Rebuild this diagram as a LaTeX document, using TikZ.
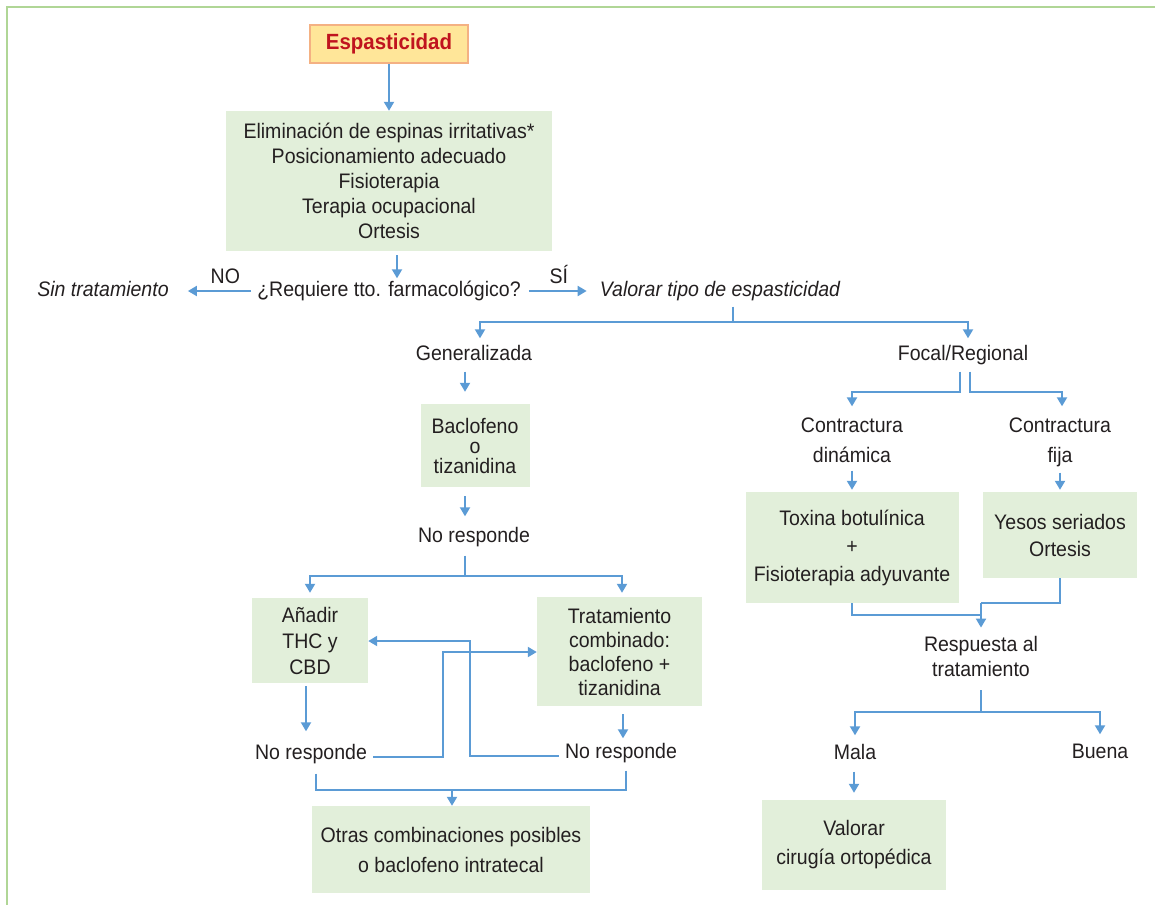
\documentclass[tikz,border=0pt]{standalone}
\usepackage{fontspec}
\setmainfont{Liberation Sans}[FakeStretch=0.93]
\usetikzlibrary{arrows.meta}
\definecolor{lineblue}{RGB}{91,155,213}
\definecolor{boxgreen}{RGB}{226,239,218}
\definecolor{framegreen}{RGB}{176,214,150}
\definecolor{espfill}{RGB}{255,230,153}
\definecolor{espdraw}{RGB}{244,177,131}
\definecolor{espred}{RGB}{192,20,30}
\definecolor{ink}{RGB}{35,31,32}

\begin{document}
\begin{tikzpicture}[x=1pt,y=-1pt,
        every node/.style={font=\fontsize{21}{25}\selectfont,text=ink,align=center,inner sep=3pt},
        lbl/.style={text height=15pt,text depth=4pt},
        it/.style={lbl,font=\fontsize{21}{25}\selectfont\itshape},
        box/.style={fill=boxgreen,inner sep=0pt},
        ln/.style={draw=lineblue,line width=2pt},
        arr/.style={ln,-{Triangle[length=9pt,width=10pt]}}]
    \useasboundingbox (0,0) rectangle (1155,905);
    \draw[framegreen,line width=1.5pt] (1155,7) -- (7,7) -- (7,905);

    % top
    \node[draw=espdraw,fill=espfill,line width=1.5pt,minimum width=158pt,minimum height=38pt,
          font=\fontsize{22}{26}\selectfont\bfseries,text=espred] (esp) at (389,44) {Espasticidad};
    \node[box,minimum width=326pt,minimum height=140pt] (med) at (389,181)
        {Eliminación de espinas irritativas*\\Posicionamiento adecuado\\Fisioterapia\\Terapia ocupacional\\Ortesis};
    \node[lbl] (req) at (389,291) {¿Requiere tto. farmacológico?};
    \node[it] (sin) at (103,291) {Sin tratamiento};
    \node[it] (val) at (720,291) {Valorar tipo de espasticidad};

    % generalizada
    \node[lbl] (gen) at (474,355) {Generalizada};
    \node[box,minimum width=109pt,minimum height=83pt,font=\fontsize{21}{20}\selectfont] (bac) at (475,445.5)
        {Baclofeno\\o\\tizanidina};
    \node[lbl] (nr1) at (474,537) {No responde};
    \node[box,minimum width=116pt,minimum height=85pt,font=\fontsize{21}{26}\selectfont] (thc) at (310,640.5)
        {Añadir\\THC y\\CBD};
    \node[box,minimum width=165pt,minimum height=109pt,font=\fontsize{21}{24}\selectfont] (trt) at (619.5,651.5)
        {Tratamiento\\combinado:\\baclofeno +\\tizanidina};
    \node[lbl] (nr2) at (311,754) {No responde};
    \node[lbl] (nr3) at (621,753) {No responde};
    \node[box,minimum width=278pt,minimum height=87pt,font=\fontsize{21}{30}\selectfont] (otr) at (451,849.5)
        {Otras combinaciones posibles\\o baclofeno intratecal};

    % focal
    \node[lbl] (foc) at (963,355) {Focal/Regional};
    \node[font=\fontsize{21}{30}\selectfont] (cd) at (852,440) {Contractura\\dinámica};
    \node[font=\fontsize{21}{30}\selectfont] (cf) at (1060,442) {Contractura\\fija};
    \node[box,minimum width=213pt,minimum height=111pt,font=\fontsize{21}{28}\selectfont] (tox) at (852,547.5)
        {Toxina botulínica\\+\\Fisioterapia adyuvante};
    \node[box,minimum width=154pt,minimum height=86pt,font=\fontsize{21}{27}\selectfont] (yes) at (1060,535)
        {Yesos seriados\\Ortesis};
    \node[font=\fontsize{21}{25}\selectfont] (resp) at (981,656) {Respuesta al\\tratamiento};
    \node[lbl] (mala) at (855,754) {Mala};
    \node[lbl] (buena) at (1100,753) {Buena};
    \node[box,minimum width=184pt,minimum height=90pt,font=\fontsize{21}{29}\selectfont] (vc) at (854,845)
        {Valorar\\cirugía ortopédica};

    \coordinate (j1) at (733,322);
    \coordinate (j2) at (465,576);
    \coordinate (c1) at (443,652);
    \coordinate (c2) at (470,641);
    \coordinate (j3) at (452,790);
    \coordinate (j4) at (981,603);
    \coordinate (j5) at (981,615);
    \coordinate (j6) at (981,712);

    \draw[arr] (esp) -- (med);
    \draw[arr,shorten <=4pt] ([xshift=8pt]med.south) -- ([xshift=8pt]req.north);
    \draw[arr,shorten <=3pt,shorten >=16pt] (req.west) -- (sin.east) node[lbl,pos=0.35,above=0pt] {NO};
    \draw[arr,shorten <=5pt,shorten >=10pt] (req.east) -- (val.west) node[lbl,pos=0.48,above=0pt] {SÍ};
    \draw[ln,shorten <=3pt] ([xshift=13pt]val.south) -- (j1);
    \draw[arr,shorten >=4pt] (j1) -| ([xshift=6pt]gen.north);
    \draw[arr,shorten >=4pt] (j1) -| ([xshift=5pt]foc.north);

    \draw[arr,shorten <=4pt,shorten >=12pt] ([xshift=-9pt]gen.south) -- ([xshift=-10pt]bac.north);
    \draw[arr,shorten <=9pt,shorten >=8pt] ([xshift=-10pt]bac.south) -- ([xshift=-9pt]nr1.north);
    \draw[ln,shorten <=6pt] ([xshift=-9pt]nr1.south) -- (j2);
    \draw[arr,shorten >=5pt] (j2) -| (thc.north);
    \draw[arr,shorten >=4pt] (j2) -| ([xshift=2.5pt]trt.north);
    \draw[arr,shorten <=3pt,shorten >=10pt] ([xshift=-4pt]thc.south) -- ([xshift=-5pt]nr2.north);
    \draw[arr,shorten <=8pt,shorten >=2pt] ([xshift=3.5pt]trt.south) -- ([xshift=2pt]nr3.north);
    \draw[arr,shorten <=3pt] ([yshift=-3pt]nr2.east) -| (c1) -- (c1 -| trt.west);
    \draw[arr,shorten <=3pt] ([yshift=-3pt]nr3.west) -| (c2) -- (c2 -| thc.east);
    \draw[ln,shorten <=7pt] ([xshift=5pt]nr2.south) |- (j3);
    \draw[ln,shorten <=5pt] ([xshift=5pt]nr3.south) |- (j3);
    \draw[arr] (j3) -- (j3 |- otr.north);

    \draw[arr,shorten <=4pt,shorten >=8pt] ([xshift=-3pt]foc.south) -- ++(0,24) -| (cd.north);
    \draw[arr,shorten <=4pt,shorten >=8pt] ([xshift=7pt]foc.south) -- ++(0,24) -| ([xshift=2pt]cf.north);
    \draw[arr,shorten <=5pt,shorten >=2pt] (cd.south) -- (tox.north);
    \draw[arr,shorten <=3pt,shorten >=2pt] (cf.south) -- (yes.north);
    \draw[ln] (yes.south) |- (j4);
    \draw[ln] (tox.south) |- (j5);
    \draw[arr,shorten >=5pt] (j4) -- (j4 |- resp.north);
    \draw[ln,shorten <=11pt] (j6 |- resp.south) -- (j6);
    \draw[arr,shorten >=6pt] (j6) -| (mala.north);
    \draw[arr,shorten >=6pt] (j6) -| (buena.north);
    \draw[arr,shorten <=5pt,shorten >=7pt] ([xshift=-1pt]mala.south) -- (vc.north);

\end{tikzpicture}
\end{document}
